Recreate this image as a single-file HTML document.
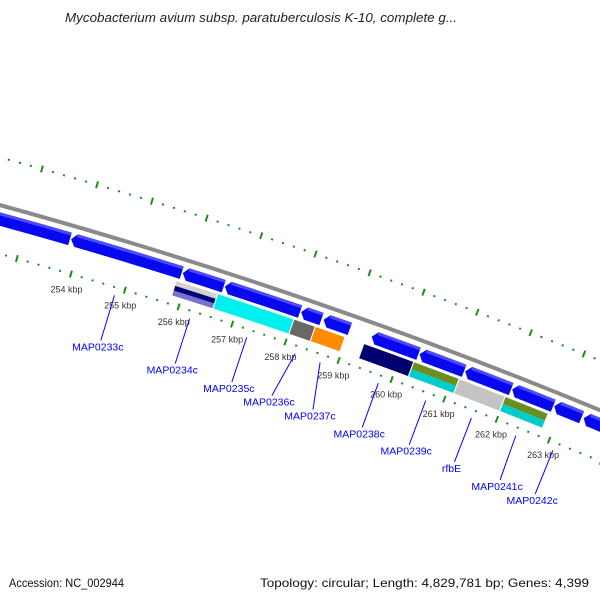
<!DOCTYPE html>
<html><head><meta charset="utf-8"><style>
html,body{margin:0;padding:0;background:#fff;}
svg{display:block;font-family:"Liberation Sans",sans-serif;}
</style></head><body>
<svg id="map" width="600" height="600" viewBox="0 0 600 600" xmlns="http://www.w3.org/2000/svg">
<rect width="600" height="600" fill="#fff"/>
<text x="261" y="22" text-anchor="middle" font-size="13" font-style="italic" fill="#222" textLength="392" lengthAdjust="spacingAndGlyphs">Mycobacterium avium subsp. paratuberculosis K-10, complete g...</text>
<g id="plot"></g>
<text x="9" y="587" font-size="12" fill="#111" textLength="115" lengthAdjust="spacingAndGlyphs">Accession: NC_002944</text>
<text x="260" y="587" font-size="12" fill="#111" textLength="329" lengthAdjust="spacingAndGlyphs">Topology: circular; Length: 4,829,781 bp; Genes: 4,399</text>
</svg>
<script>
// ---- data (kbp) ----
const row1Start=[249.5,253.83,255.89,256.67,258.09,258.51,259.41,260.31,261.17,262.06,262.86,263.42];
const row1End=[253.81,255.87,256.65,258.07,258.47,259.0,260.29,261.15,262.04,262.84,263.38,265.5];
const row2Start=[255.83,256.6,258.02,258.42,259.33,260.27,261.13,262.0];
const row2End=[256.58,258.0,258.40,258.96,260.25,261.11,261.98,262.8];
const row2Colors=[["#d2d2d2","#00007a","#7a70d0"],["#00f0f0"],["#686868"],["#ff8c00"],["#00006e"],["#6b8e23","#00cccc"],["#c4c4c4"],["#6b8e23","#00cccc"]];
const tickLabels=[254,255,256,257,258,259,260,261,262,263];
const tickStart=246, tickEnd=268;
const geneNames=["MAP0233c","MAP0234c","MAP0235c","MAP0236c","MAP0237c","MAP0238c","MAP0239c","rfbE","MAP0241c","MAP0242c"];
const geneAnchor=[254.85,256.25,257.32,258.23,258.70,259.80,260.70,261.57,262.42,263.13];
const geneLabelPos=[254.85,256.25,257.32,258.08,258.86,259.80,260.70,261.57,262.45,263.13];

// ---- geometry ----
const CX=-1354, CY=5147;
const R_BACK=5124, R_OUT=5170, R_IN=5077;
const R1o=5117, R1i=5104, R2o=5101, R2i=5086;
const NS="http://www.w3.org/2000/svg";
const g=document.getElementById('plot');
function ang(bp){return (-72.43+(bp-256)*0.635)*Math.PI/180;}
function pt(r,bp){const a=ang(bp);return [CX+r*Math.cos(a),CY+r*Math.sin(a)];}
function f(p){return p[0].toFixed(2)+" "+p[1].toFixed(2);}
function band(b0,b1,ri,ro){
  return "M"+f(pt(ro,b0))+" A"+ro+" "+ro+" 0 0 1 "+f(pt(ro,b1))+" L"+f(pt(ri,b1))+" A"+ri+" "+ri+" 0 0 0 "+f(pt(ri,b0))+" Z";
}
function arrow(b0,b1,ri,ro){
  const h=0.09, rm=(ri+ro)/2;
  return "M"+f(pt(ro,b0+h))+" A"+ro+" "+ro+" 0 0 1 "+f(pt(ro,b1))+" L"+f(pt(ri,b1))+" A"+ri+" "+ri+" 0 0 0 "+f(pt(ri,b0+h))+" L"+f(pt(rm,b0))+" Z";
}
function mk(tag,attrs){const e=document.createElementNS(NS,tag);for(const k in attrs)e.setAttribute(k,attrs[k]);g.appendChild(e);return e;}

let bb=mk('path',{d:"M"+f(pt(R_BACK,246))+" A"+R_BACK+" "+R_BACK+" 0 0 1 "+f(pt(R_BACK,268)),fill:"none",stroke:"#8a8a8a","stroke-width":4});



for(let i=0;i<=Math.round((tickEnd-tickStart)/0.2);i++){
  const bp=tickStart+i*0.2;
  const big=(i%5===0);
  [R_OUT,R_IN].forEach(function(r){
    const hl=big?3.5:1;
    const p0=pt(r-hl,bp),p1=pt(r+hl,bp);
    const t=mk('line',{x1:p0[0],y1:p0[1],x2:p1[0],y2:p1[1],stroke:"#1f8a1f","stroke-width":2});
    
    
  });
}
tickLabels.forEach(function(k){
  const p=pt(R_IN-16,k);
  const t=mk('text',{x:p[0],y:p[1]+3,"text-anchor":"middle","font-size":"9",fill:"#333"});
  t.textContent=k+" kbp";
  
  
});

for(let i=0;i<row1Start.length;i++){
  const p=mk('path',{d:arrow(row1Start[i],row1End[i],R1i,R1o),fill:"#0808ee"});
  
  
  const hi=mk('path',{d:band(row1Start[i]+0.09,row1End[i],R1o-3,R1o),fill:"#4a4aff"});
  
  
}
for(let i=0;i<row2Start.length;i++){
  const cols=row2Colors[i];
  const step=(R2o-R2i)/cols.length;
  cols.forEach(function(c,j){
    const ro=R2o-j*step, ri=ro-step;
    const p=mk('path',{d:band(row2Start[i],row2End[i],ri,ro),fill:c});
    
    
  });
}
for(let i=0;i<geneNames.length;i++){
  const a=pt(R_IN-8,geneAnchor[i]), b=pt(5022,geneLabelPos[i]);
  const l=mk('line',{x1:a[0],y1:a[1],x2:b[0],y2:b[1],stroke:"#0000ff","stroke-width":1});
  
  
  const t=mk('text',{x:b[0]-3,y:b[1]+10,"text-anchor":"middle","font-size":"10.5",fill:"#0000ff"});
  t.textContent=geneNames[i];
  
  
}
</script>
</body></html>
